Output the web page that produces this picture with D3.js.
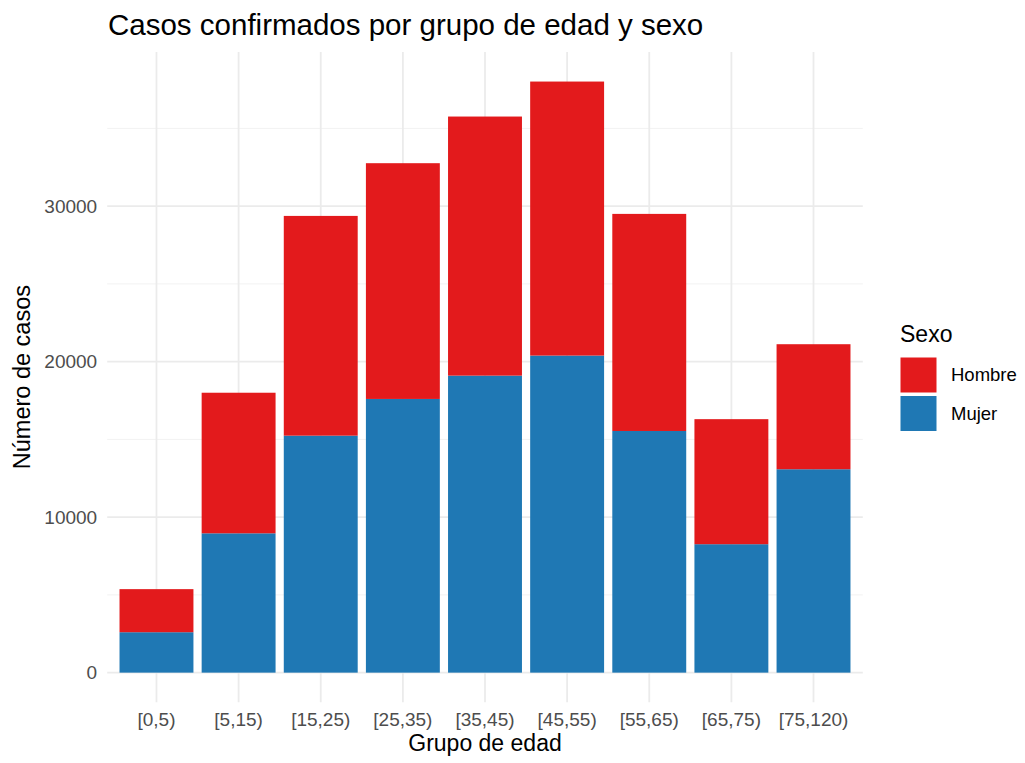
<!DOCTYPE html>
<html>
<head>
<meta charset="utf-8">
<script src="https://cdn.jsdelivr.net/npm/d3@7"></script>
<style>
  html, body { margin: 0; padding: 0; background: #fff; }
  svg { display: block; font-family: "Liberation Sans", Arial, Helvetica, sans-serif; }
</style>
</head>
<body>
<svg id="chart" width="1025" height="763"></svg>
<script>
const categories = ["[0,5)", "[5,15)", "[15,25)", "[25,35)", "[35,45)", "[45,55)", "[55,65)", "[65,75)", "[75,120)"];
const mujer  = [2600, 8960, 15240, 17600, 19100, 20390, 15540, 8260, 13080];
const hombre = [2770, 9040, 14130, 15160, 16660, 17620, 13960, 8040, 8040];
const sexes = ["Hombre", "Mujer"];
const sexColors = ["#E31A1C", "#1F78B4"];
const yMajorTicks = [0, 10000, 20000, 30000];
const yMinorTicks = [5000, 15000, 25000, 35000];
const title = "Casos confirmados por grupo de edad y sexo";
const xTitle = "Grupo de edad";
const yTitle = "Número de casos";
const legendTitle = "Sexo";

const rows = categories.map((c, i) => ({ grupo: c, Mujer: mujer[i], Hombre: hombre[i] }));
const stacked = d3.stack().keys(["Mujer", "Hombre"])(rows);

const svg = d3.select("#chart");
const panel = { left: 107.2, right: 862.8, top: 52, bottom: 702.2 };

const maxTotal = d3.max(rows, d => d.Mujer + d.Hombre);
const x = d3.scaleBand().domain(categories)
  .range([panel.left, panel.right]).paddingInner(0.1).paddingOuter(0.15);
const y = d3.scaleLinear().domain([-0.05 * maxTotal, 1.05 * maxTotal])
  .range([panel.bottom, panel.top]);
const color = d3.scaleOrdinal().domain(sexes).range(sexColors);

const grid = svg.append("g");
grid.selectAll("line.minor").data(yMinorTicks).join("line")
  .attr("x1", panel.left).attr("x2", panel.right)
  .attr("y1", d => y(d)).attr("y2", d => y(d))
  .attr("stroke", "#f2f2f2").attr("stroke-width", 1);
grid.selectAll("line.major").data(yMajorTicks).join("line")
  .attr("x1", panel.left).attr("x2", panel.right)
  .attr("y1", d => y(d)).attr("y2", d => y(d))
  .attr("stroke", "#ebebeb").attr("stroke-width", 1.8);
grid.selectAll("line.v").data(categories).join("line")
  .attr("x1", d => x(d) + x.bandwidth() / 2).attr("x2", d => x(d) + x.bandwidth() / 2)
  .attr("y1", panel.top).attr("y2", panel.bottom)
  .attr("stroke", "#ebebeb").attr("stroke-width", 1.8);

svg.append("g").selectAll("g").data(stacked).join("g")
  .attr("fill", d => color(d.key))
  .selectAll("rect").data(d => d).join("rect")
  .attr("x", d => x(d.data.grupo))
  .attr("width", x.bandwidth())
  .attr("y", d => y(d[1]))
  .attr("height", d => y(d[0]) - y(d[1]));

const yAxis = d3.axisLeft(y).tickValues(yMajorTicks).tickFormat(d3.format("d")).tickSize(0).tickPadding(10);
const gy = svg.append("g").attr("transform", `translate(${panel.left},0)`).call(yAxis);
gy.select(".domain").remove();
gy.selectAll("text").attr("fill", "#4d4d4d").style("font-size", "19px")
  .attr("font-family", "Liberation Sans, Arial, sans-serif");

const xAxis = d3.axisBottom(x).tickSize(0).tickPadding(0);
const gx = svg.append("g").attr("transform", `translate(0,712)`).call(xAxis);
gx.select(".domain").remove();
gx.selectAll("text").attr("fill", "#4d4d4d").style("font-size", "19px")
  .attr("font-family", "Liberation Sans, Arial, sans-serif");

svg.append("text").attr("x", 108).attr("y", 35)
  .attr("fill", "#000").style("font-size", "29.5px").text(title);
svg.append("text").attr("x", (panel.left + panel.right) / 2).attr("y", 751)
  .attr("text-anchor", "middle").attr("fill", "#000").style("font-size", "23px").text(xTitle);
svg.append("text").attr("transform", `translate(30,${(panel.top + panel.bottom) / 2}) rotate(-90)`)
  .attr("text-anchor", "middle").attr("fill", "#000").style("font-size", "23.5px").text(yTitle);

const lg = svg.append("g").attr("transform", "translate(900,0)");
lg.append("text").attr("x", 0).attr("y", 342).attr("fill", "#000").style("font-size", "23px").text(legendTitle);
const items = lg.selectAll("g.item").data(sexes).join("g")
  .attr("transform", (d, i) => `translate(0,${357.5 + i * 38.5})`);
items.append("rect").attr("x", 0.5).attr("y", 0).attr("width", 36).attr("height", 35)
  .attr("fill", d => color(d));
items.append("text").attr("x", 51).attr("y", 17.5).attr("dy", "0.35em")
  .attr("fill", "#000").style("font-size", "18.5px").text(d => d);
</script>
</body>
</html>
